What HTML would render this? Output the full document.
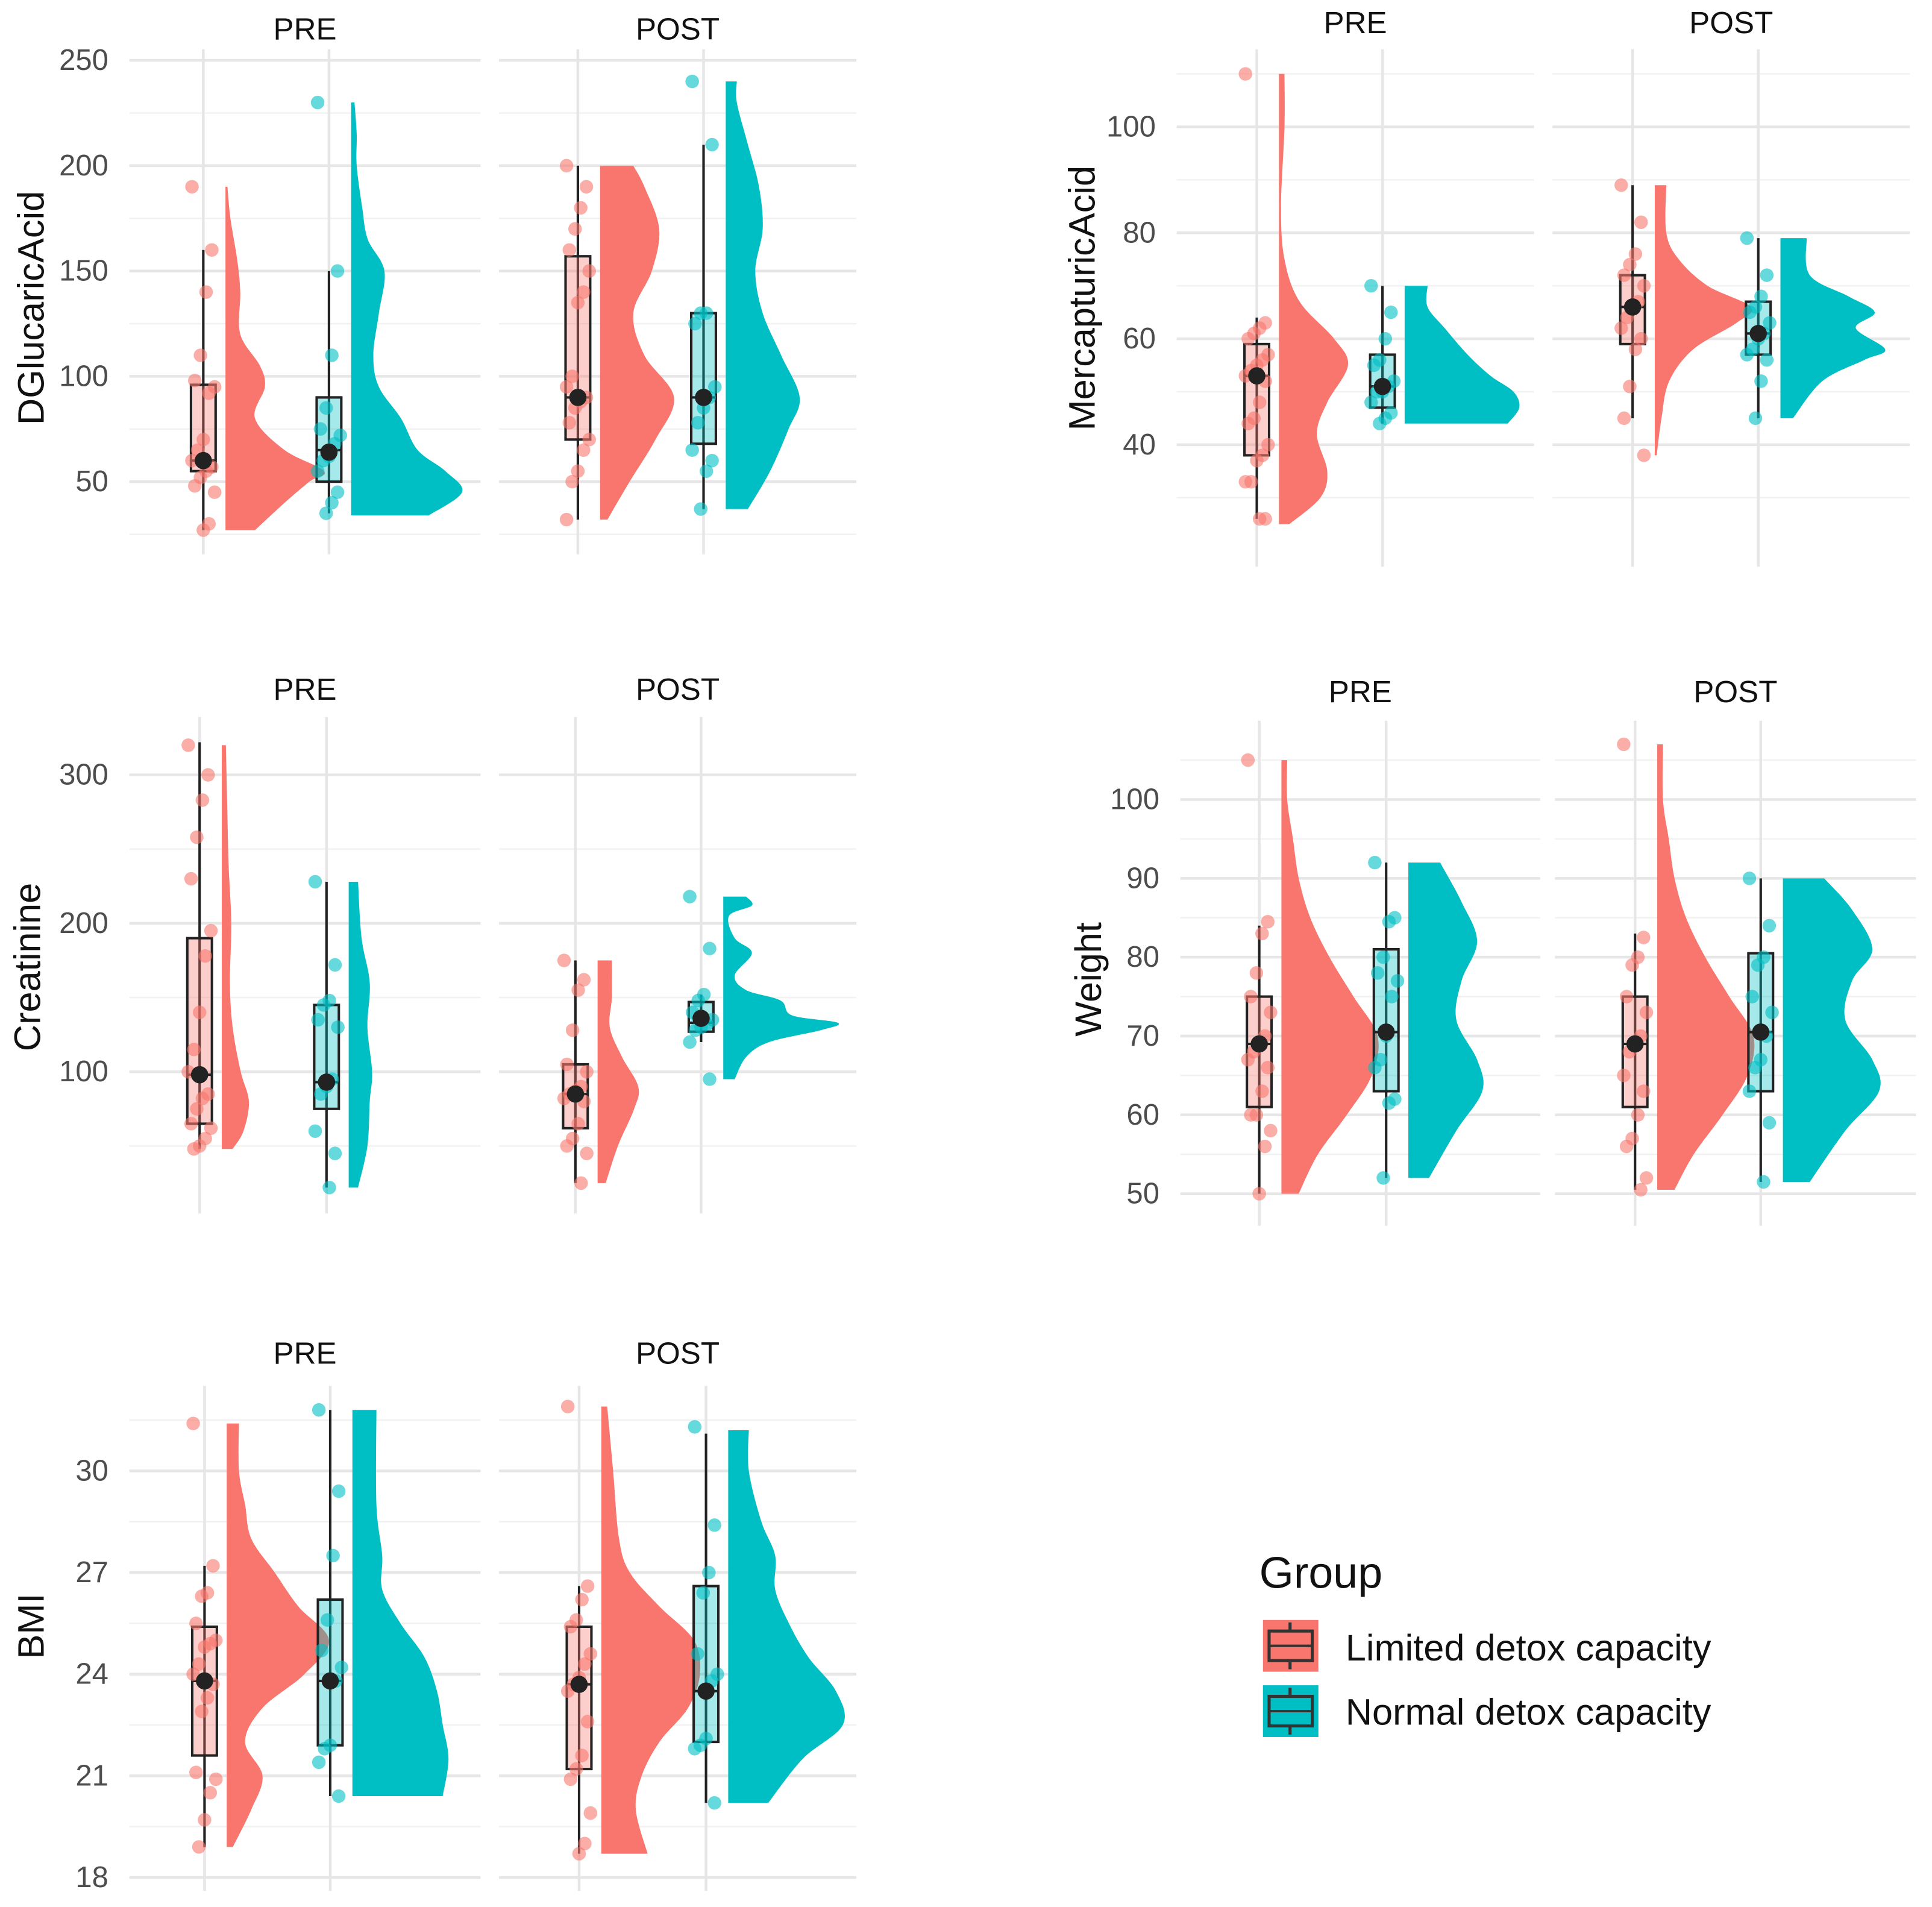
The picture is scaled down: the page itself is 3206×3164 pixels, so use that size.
<!DOCTYPE html>
<html><head><meta charset="utf-8"><style>
html,body{margin:0;padding:0;background:#fff;}
svg{display:block;}
text{font-family:"Liberation Sans",Arial,sans-serif;}
</style></head><body>
<svg id="fig" xmlns="http://www.w3.org/2000/svg" width="3206" height="3164" viewBox="0 0 1568 1548" preserveAspectRatio="none">
<rect width="1568" height="1548" fill="#fff"/>
<g>
<text x="1022" y="1289" font-size="36" fill="#111">Group</text>
<g>
<rect x="1025" y="1315" width="45" height="42" fill="#F8766D"/>
<rect x="1030" y="1324" width="35" height="24" fill="none" stroke="#333" stroke-width="2.5"/>
<line x1="1047" y1="1317" x2="1047" y2="1324" stroke="#333" stroke-width="2.5"/><line x1="1047" y1="1348" x2="1047" y2="1355" stroke="#333" stroke-width="2.5"/>
<line x1="1030" y1="1336" x2="1065" y2="1336" stroke="#333" stroke-width="2"/>
<text x="1092" y="1348" font-size="30" fill="#111">Limited detox capacity</text></g>
<g>
<rect x="1025" y="1368" width="45" height="42" fill="#00BFC4"/>
<rect x="1030" y="1377" width="35" height="24" fill="none" stroke="#333" stroke-width="2.5"/>
<line x1="1047" y1="1370" x2="1047" y2="1377" stroke="#333" stroke-width="2.5"/><line x1="1047" y1="1401" x2="1047" y2="1408" stroke="#333" stroke-width="2.5"/>
<line x1="1030" y1="1389" x2="1065" y2="1389" stroke="#333" stroke-width="2"/>
<text x="1092" y="1400" font-size="30" fill="#111">Normal detox capacity</text></g>
</g>
</svg>
<script>
// ---------- DATA ----------
// DGlucaricAcid
const dgTicks=[50,100,150,200,250];
const dgPreLimPts=[190,160,140,110,98,95,92,70,65,60,57,55,52,48,45,30,27];
const dgPreLimBox=[27,55,60,96,160]; const dgPreLimMean=60;
const dgPreLimDens=[[27,0.3],[40,0.6],[50,0.85],[55,1],[65,0.6],[80,0.3],[95,0.4],[105,0.35],[120,0.15],[140,0.15],[155,0.12],[175,0.05],[190,0.02]];
const dgPreNorPts=[230,150,110,85,75,72,68,62,60,55,45,40,35];
const dgPreNorBox=[35,50,65,90,150]; const dgPreNorMean=64;
const dgPreNorDens=[[34,0.7],[45,1],[55,0.85],[65,0.6],[80,0.45],[95,0.25],[110,0.2],[130,0.25],[150,0.3],[165,0.15],[180,0.1],[200,0.05],[215,0.05],[230,0.03]];
const dgPostLimPts=[200,190,180,170,160,150,140,135,100,95,90,88,85,78,70,65,55,50,32];
const dgPostLimBox=[32,70,90,157,200]; const dgPostLimMean=90;
const dgPostLimDens=[[32,0.1],[50,0.4],[70,0.75],[90,1],[110,0.6],[130,0.45],[150,0.7],[170,0.8],[190,0.6],[200,0.45]];
const dgPostNorPts=[240,210,130,130,125,95,90,85,78,65,60,55,37];
const dgPostNorBox=[37,68,90,130,210]; const dgPostNorMean=90;
const dgPostNorDens=[[37,0.3],[55,0.6],[75,0.85],[90,1],[110,0.75],[130,0.5],[150,0.4],[170,0.5],[190,0.45],[210,0.3],[230,0.15],[240,0.15]];
// MercapturicAcid
const mcTicks=[40,60,80,100];
const mcPreLimPts=[110,63,62,61,60,57,56,55,54,53,52,48,45,44,40,38,37,33,33,26,26];
const mcPreLimBox=[26,38,53,59,64]; const mcPreLimMean=53;
const mcPreLimDens=[[25,0.15],[30,0.6],[35,0.7],[42,0.55],[48,0.7],[55,1],[60,0.8],[67,0.3],[75,0.08],[85,0.03],[100,0.08],[110,0.08]];
const mcPreNorPts=[70,65,60,56,55,52,51,50,50,48,46,45,44];
const mcPreNorBox=[44,47,51,57,70]; const mcPreNorMean=51;
const mcPreNorDens=[[44,0.9],[47,1],[50,0.95],[53,0.75],[57,0.55],[62,0.35],[66,0.2],[70,0.2]];
const mcPostLimPts=[89,82,76,74,72,70,67,66,64,62,60,58,51,45,38];
const mcPostLimBox=[45,59,66,72,89]; const mcPostLimMean=66;
const mcPostLimDens=[[38,0.02],[45,0.07],[52,0.15],[58,0.4],[63,0.85],[66,1],[70,0.55],[75,0.25],[80,0.12],[89,0.12]];
const mcPostNorPts=[79,72,68,66,65,63,61,60,58,57,56,52,45];
const mcPostNorBox=[45,57,61,67,79]; const mcPostNorMean=61;
const mcPostNorDens=[[45,0.12],[52,0.4],[56,0.8],[58,1],[62,0.72],[65,0.9],[68,0.65],[72,0.28],[79,0.25]];
// Creatinine
const crTicks=[100,200,300];
const crPreLimPts=[320,300,283,258,230,195,178,140,115,100,85,82,75,65,62,55,50,48];
const crPreLimBox=[48,65,98,190,322]; const crPreLimMean=98;
const crPreLimDens=[[48,0.4],[60,0.8],[80,1],[100,0.7],[130,0.4],[160,0.3],[200,0.35],[240,0.25],[280,0.2],[320,0.15]];
const crPreNorPts=[228,172,148,145,135,130,95,90,85,60,45,22];
const crPreNorBox=[22,75,93,145,228]; const crPreNorMean=93;
const crPreNorDens=[[22,0.4],[50,0.8],[80,0.9],[100,1],[130,0.8],[160,0.9],[190,0.55],[228,0.4]];
const crPostLimPts=[175,162,155,128,105,100,90,87,85,82,80,65,55,50,45,25];
const crPostLimBox=[25,62,85,105,175]; const crPostLimMean=85;
const crPostLimDens=[[25,0.2],[50,0.5],[75,0.9],[90,1],[110,0.6],[130,0.3],[150,0.35],[175,0.35]];
const crPostNorPts=[218,183,152,148,140,135,132,130,128,120,95];
const crPostNorBox=[120,127,133,147,152]; const crPostNorMean=136;
const crPostNorDens=[[95,0.1],[110,0.2],[120,0.4],[128,0.85],[133,1],[138,0.6],[148,0.5],[155,0.2],[165,0.1],[180,0.25],[190,0.1],[205,0.05],[212,0.25],[218,0.2]];
// Weight
const wtTicks=[50,60,70,80,90,100];
const wtPreLimPts=[105,84.5,83,78,75,73,70,69,68,67,66,63,60,60,58,56,50];
const wtPreLimBox=[50,61,69,75,84]; const wtPreLimMean=69;
const wtPreLimDens=[[50,0.18],[55,0.38],[60,0.68],[65,0.94],[70,1],[75,0.75],[80,0.5],[85,0.3],[90,0.18],[95,0.12],[100,0.06],[105,0.06]];
const wtPreNorPts=[92,85,84.5,80,78,77,75,70,67,66,62,61.5,52];
const wtPreNorBox=[52,63,70.5,81,92]; const wtPreNorMean=70.5;
const wtPreNorDens=[[52,0.28],[58,0.65],[63,1],[67,0.93],[72,0.65],[77,0.72],[82,0.93],[87,0.72],[92,0.43]];
const wtPostLimPts=[107,82.5,80,79,75,73,70,69,68,65,63,60,57,56,52,50.5];
const wtPostLimBox=[50.5,61,69,75,83]; const wtPostLimMean=69;
const wtPostLimDens=[[50.5,0.18],[55,0.38],[60,0.68],[65,0.94],[70,1],[75,0.75],[80,0.5],[85,0.3],[90,0.18],[95,0.12],[100,0.06],[107,0.06]];
const wtPostNorPts=[90,84,80,79,75,73,70,67,66,63,59,51.5];
const wtPostNorBox=[51.5,63,70.5,80.5,90]; const wtPostNorMean=70.5;
const wtPostNorDens=[[51.5,0.28],[58,0.65],[63,1],[67,0.93],[72,0.65],[77,0.72],[81,0.93],[86,0.72],[90,0.43]];
// BMI
const bmTicks=[18,21,24,27,30];
const bmPreLimPts=[31.4,27.2,26.4,26.3,25.5,25.0,24.9,24.8,24.3,24.0,23.7,23.3,22.9,21.1,20.9,20.5,19.7,18.9];
const bmPreLimBox=[18.9,21.6,23.8,25.4,27.2]; const bmPreLimMean=23.8;
const bmPreLimDens=[[18.9,0.06],[20,0.24],[21,0.35],[22,0.18],[23,0.35],[24,0.76],[25,1],[26,0.7],[27,0.47],[28,0.24],[29,0.18],[30,0.12],[31.4,0.12]];
const bmPreNorPts=[31.8,29.4,27.5,25.6,24.7,24.2,23.8,21.9,21.8,21.4,20.4];
const bmPreNorBox=[20.4,21.9,23.8,26.2,31.8]; const bmPreNorMean=23.8;
const bmPreNorDens=[[20.4,0.94],[21.5,1],[22.5,0.94],[23.5,0.88],[24.5,0.75],[25.5,0.5],[26.5,0.31],[27.5,0.31],[29,0.25],[31.8,0.25]];
const bmPostLimPts=[31.9,26.6,26.2,25.6,25.4,24.6,24.3,23.9,23.7,23.5,22.6,21.6,21.2,20.9,19.9,19.0,18.7];
const bmPostLimBox=[18.7,21.2,23.7,25.4,26.6]; const bmPostLimMean=23.7;
const bmPostLimDens=[[18.7,0.47],[20,0.35],[21,0.41],[22,0.59],[23,0.88],[24,1],[25,0.94],[26,0.59],[27,0.29],[28,0.18],[30,0.12],[31.9,0.06]];
const bmPostNorPts=[31.3,28.4,27.0,26.4,24.6,24.0,23.8,22.1,21.9,21.8,20.2];
const bmPostNorBox=[20.2,22,23.5,26.6,31.1]; const bmPostNorMean=23.5;
const bmPostNorDens=[[20.2,0.35],[21.5,0.65],[22.5,1],[23.5,0.94],[24.5,0.7],[25.5,0.53],[26.5,0.41],[27.5,0.41],[28.5,0.29],[30,0.18],[31.2,0.18]];

// ---------- LAYOUT ----------
const RED="#F8766D", TEAL="#00BFC4";
const panels=[
 {name:"dglucaricacid",title:"DGlucaricAcid",ticks:dgTicks,v1:50,y1:391,v2:250,y2:49,top:40,bot:450,tx:25,ty:250,sy:32,
  facets:[{lab:"PRE",l:105,r:390,c:[165,267],g:[[dgPreLimPts,dgPreLimBox,dgPreLimMean,dgPreLimDens,80],[dgPreNorPts,dgPreNorBox,dgPreNorMean,dgPreNorDens,90]]},
          {lab:"POST",l:405,r:695,c:[469,571],g:[[dgPostLimPts,dgPostLimBox,dgPostLimMean,dgPostLimDens,60],[dgPostNorPts,dgPostNorBox,dgPostNorMean,dgPostNorDens,60]]}]},
 {name:"mercapturicacid",title:"MercapturicAcid",ticks:mcTicks,v1:40,y1:361,v2:100,y2:103,top:40,bot:460,tx:878,ty:242,sy:27,
  facets:[{lab:"PRE",l:955,r:1245,c:[1020,1122],g:[[mcPreLimPts,mcPreLimBox,mcPreLimMean,mcPreLimDens,56],[mcPreNorPts,mcPreNorBox,mcPreNorMean,mcPreNorDens,93]]},
          {lab:"POST",l:1260,r:1550,c:[1325,1427],g:[[mcPostLimPts,mcPostLimBox,mcPostLimMean,mcPostLimDens,78],[mcPostNorPts,mcPostNorBox,mcPostNorMean,mcPostNorDens,85]]}]},
 {name:"creatinine",title:"Creatinine",ticks:crTicks,v1:100,y1:870,v2:300,y2:629,top:582,bot:985,tx:22,ty:785,sy:568,
  facets:[{lab:"PRE",l:105,r:390,c:[162,265],g:[[crPreLimPts,crPreLimBox,crPreLimMean,crPreLimDens,22],[crPreNorPts,crPreNorBox,crPreNorMean,crPreNorDens,19]]},
          {lab:"POST",l:405,r:695,c:[467,569],g:[[crPostLimPts,crPostLimBox,crPostLimMean,crPostLimDens,33],[crPostNorPts,crPostNorBox,crPostNorMean,crPostNorDens,93]]}]},
 {name:"weight",title:"Weight",ticks:wtTicks,v1:50,y1:969,v2:100,y2:649,top:585,bot:995,tx:883,ty:795,sy:570,
  facets:[{lab:"PRE",l:958,r:1250,c:[1022,1125],g:[[wtPreLimPts,wtPreLimBox,wtPreLimMean,wtPreLimDens,78],[wtPreNorPts,wtPreNorBox,wtPreNorMean,wtPreNorDens,60]]},
          {lab:"POST",l:1262,r:1555,c:[1327,1429],g:[[wtPostLimPts,wtPostLimBox,wtPostLimMean,wtPostLimDens,78],[wtPostNorPts,wtPostNorBox,wtPostNorMean,wtPostNorDens,78]]}]},
 {name:"bmi",title:"BMI",ticks:bmTicks,v1:18,y1:1524,v2:30,y2:1194,top:1125,bot:1535,tx:25,ty:1320,sy:1107,
  facets:[{lab:"PRE",l:105,r:390,c:[166,268],g:[[bmPreLimPts,bmPreLimBox,bmPreLimMean,bmPreLimDens,83],[bmPreNorPts,bmPreNorBox,bmPreNorMean,bmPreNorDens,78]]},
          {lab:"POST",l:405,r:695,c:[470,573],g:[[bmPostLimPts,bmPostLimBox,bmPostLimMean,bmPostLimDens,80],[bmPostNorPts,bmPostNorBox,bmPostNorMean,bmPostNorDens,93]]}]}
];

const NS="http://www.w3.org/2000/svg";
const svg=document.getElementById('fig');
const legend=svg.lastElementChild;
function mk(tag,attrs,parent){const e=document.createElementNS(NS,tag);for(const k in attrs)e.setAttribute(k,attrs[k]);parent.appendChild(e);return e;}

function smoothPath(pts){
  let d="";
  for(let i=0;i<pts.length-1;i++){
    const p0=pts[Math.max(0,i-1)],p1=pts[i],p2=pts[i+1],p3=pts[Math.min(pts.length-1,i+2)];
    const c1=[p1[0]+(p2[0]-p0[0])/6,p1[1]+(p2[1]-p0[1])/6];
    const c2=[p2[0]-(p3[0]-p1[0])/6,p2[1]-(p3[1]-p1[1])/6];
    d+=` C${c1[0]},${c1[1]} ${c2[0]},${c2[1]} ${p2[0]},${p2[1]}`;
  }
  return d;
}

panels.forEach(p=>{
  const yS=v=>p.y1+(v-p.v1)*(p.y2-p.y1)/(p.v2-p.v1);
  const g=mk('g',{},svg);
  
  
  svg.insertBefore(g,legend);
  const yt=mk('text',{x:p.tx,y:p.ty,'font-size':30,fill:'#111','text-anchor':'middle',transform:`rotate(-90 ${p.tx} ${p.ty})`,'dominant-baseline':'central'},g);
  yt.textContent=p.title;
  
  
  const step=p.ticks[1]-p.ticks[0];
  const minor=[];
  for(let v=p.ticks[0]-step/2;v<=p.ticks[p.ticks.length-1]+step/2+1e-9;v+=step){const y=yS(v);if(y>p.top&&y<p.bot)minor.push(v);}
  p.facets.forEach((f,fi)=>{
    const fg=mk('g',{},g);
    
    
    const st=mk('text',{x:(f.l+f.r)/2,y:p.sy,'font-size':25,fill:'#111','text-anchor':'middle'},fg);
    st.textContent=f.lab;
    
    
    minor.forEach(v=>{const l=mk('line',{x1:f.l,x2:f.r,y1:yS(v),y2:yS(v),stroke:'#f2f2f2','stroke-width':1.3},fg);
      
      });
    p.ticks.forEach(v=>{const l=mk('line',{x1:f.l,x2:f.r,y1:yS(v),y2:yS(v),stroke:'#e6e6e6','stroke-width':2.2},fg);
      
      
      if(fi===0){const t=mk('text',{x:f.l-17,y:yS(v),'font-size':24,fill:'#4d4d4d','text-anchor':'end','dominant-baseline':'central'},fg);
        t.textContent=v;
        
        }});
    f.c.forEach(cx=>{const l=mk('line',{x1:cx,x2:cx,y1:p.top,y2:p.bot,stroke:'#e6e6e6','stroke-width':2.2},fg);
      
      });
    f.g.forEach((grp,gi)=>{
      const [pts,box,mean,dens,maxW]=grp;const col=gi?TEAL:RED;const cx=f.c[gi];const x0=cx+18;
      const mx=Math.max(...dens.map(d=>d[1]));
      const path=dens.map(d=>[x0+d[1]/mx*maxW,yS(d[0])]);
      let d=`M${x0},${yS(dens[0][0])} L${path[0][0]},${path[0][1]}`+smoothPath(path)+` L${x0},${yS(dens[dens.length-1][0])} Z`;
      const v=mk('path',{d:d,fill:col},fg);
      
      
    });
    f.g.forEach((grp,gi)=>{
      const [pts,box,mean]=grp;const col=gi?TEAL:RED;const cx=f.c[gi];
      const bg=mk('g',{},fg);
      
      
      mk('line',{x1:cx,x2:cx,y1:yS(box[0]),y2:yS(box[4]),stroke:'#222','stroke-width':2},bg);
      mk('rect',{x:cx-10,y:yS(box[3]),width:20,height:yS(box[1])-yS(box[3]),fill:col,'fill-opacity':0.35,stroke:'#222','stroke-width':2},bg);
      mk('line',{x1:cx-10,x2:cx+10,y1:yS(box[2]),y2:yS(box[2]),stroke:'#222','stroke-width':2},bg);
      pts.forEach((v,i)=>{
        const jx=(((i*7)%9)-4)*2.3;
        const c=mk('circle',{cx:cx+jx,cy:yS(v),r:5.5,fill:col,'fill-opacity':0.6},bg);
        
        
      });
      const m=mk('circle',{cx:cx,cy:yS(mean),r:7,fill:'#222'},bg);
      
      
    });
  });
});
</script>
</body></html>
